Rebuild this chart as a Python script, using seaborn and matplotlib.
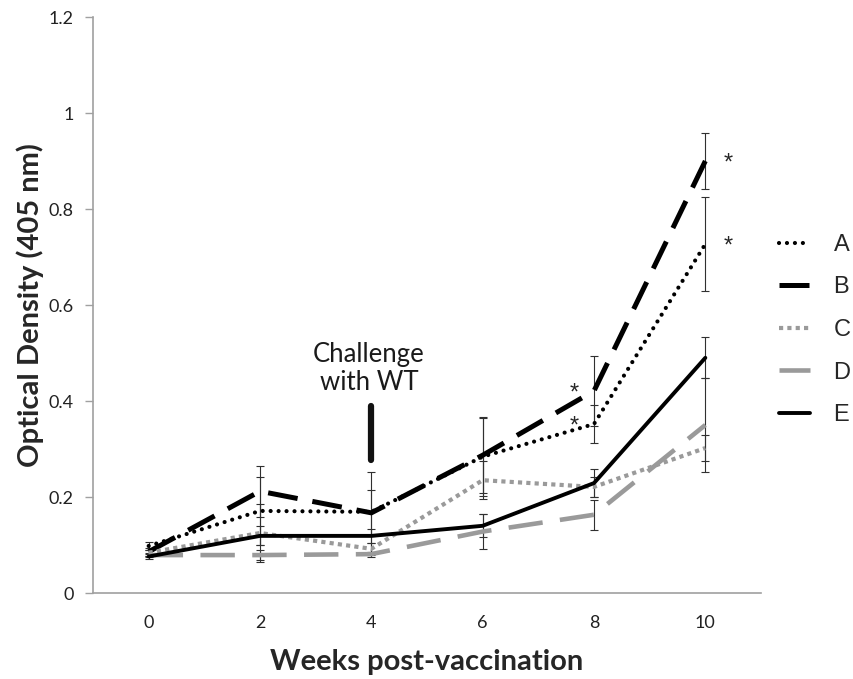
import numpy as np
import pandas as pd
import matplotlib
matplotlib.use("Agg")
import matplotlib.pyplot as plt
import seaborn as sns

# Weeks after vaccination
weeks = [0, 2, 4, 6, 8, 10]

# Mean optical density (405 nm) per group
od_a = [0.098, 0.171, 0.169, 0.284, 0.352, 0.727]
od_b = [0.086, 0.212, 0.167, 0.287, 0.421, 0.900]
od_c = [0.084, 0.125, 0.092, 0.235, 0.221, 0.302]
od_d = [0.079, 0.079, 0.081, 0.128, 0.163, 0.350]
od_e = [0.076, 0.119, 0.119, 0.140, 0.229, 0.490]

# Standard error per group
err_a = [0.008, 0.070, 0.084, 0.082, 0.040, 0.098]
err_b = [0.008, 0.053, 0.048, 0.078, 0.073, 0.058]
err_c = [0.006, 0.060, 0.012, 0.040, 0.020, 0.028]
err_d = [0.004, 0.010, 0.005, 0.036, 0.031, 0.097]
err_e = [0.005, 0.020, 0.015, 0.024, 0.030, 0.043]

groups = ["A", "B", "C", "D", "E"]
means = [od_a, od_b, od_c, od_d, od_e]
errs = [err_a, err_b, err_c, err_d, err_e]

# Significance markers (week, value of the marked mean)
star_points = [(8, od_b[4]), (8, od_a[4]), (10, od_b[5]), (10, od_a[5])]

# Challenge marker
challenge_week = 4
challenge_span = (0.277, 0.389)

gray = "#9a9a9a"
styles = {
    "A": dict(color="black", lw=3.0, ls=(0, (0.01, 1.9)), cap="round"),
    "B": dict(color="black", lw=3.6, ls=(0, (6.0, 3.0)), cap="butt"),
    "C": dict(color=gray, lw=3.0, ls=(0, (1.0, 1.0)), cap="butt"),
    "D": dict(color=gray, lw=3.3, ls=(0, (7.5, 3.8)), cap="butt"),
    "E": dict(color="black", lw=2.8, ls="-", cap="butt"),
}

sns.set_theme(style="white")
plt.rcParams["font.family"] = ["Lato", "DejaVu Sans"]

fig = plt.figure(figsize=(8.54, 6.79), dpi=100)
ax = fig.add_axes([93 / 854, 86 / 679, 668 / 854, 576 / 679])

handles = []
for g, m, e in zip(groups, means, errs):
    st = styles[g]
    df = pd.DataFrame({"week": weeks, "od": m})
    ax.errorbar(weeks, m, yerr=e, fmt="none", ecolor="#303030",
                elinewidth=0.8, capsize=3, capthick=0.8, zorder=2)
    sns.lineplot(data=df, x="week", y="od", ax=ax, color=st["color"],
                 linewidth=st["lw"], linestyle=st["ls"],
                 dash_capstyle=st["cap"], errorbar=None, zorder=3)
    handles.append(ax.lines[-1])

for w, v in star_points:
    ax.text(w + 0.42 if w == 10 else w - 0.36, v - 0.005, "*",
            ha="center", va="center", fontsize=17, family="Liberation Sans")

ax.plot([challenge_week, challenge_week], challenge_span, color="#111111",
        lw=4.5, solid_capstyle="round", zorder=4)
ax.text(challenge_week - 0.04, 0.468, "Challenge\nwith WT", ha="center",
        va="center", fontsize=18.5, linespacing=1.15, color="#1a1a1a")

ax.set_xlim(-1, 11)
ax.set_ylim(0, 1.2)
ax.set_xticks(weeks)
ax.set_xticklabels([str(w) for w in weeks])
ax.set_yticks([0, 0.2, 0.4, 0.6, 0.8, 1.0, 1.2])
ax.set_yticklabels(["0", "0.2", "0.4", "0.6", "0.8", "1", "1.2"])
ax.tick_params(axis="y", length=6, width=1, color="#a0a0a0",
               direction="out", left=True, pad=8, labelsize=13,
               labelcolor="#222222")
ax.tick_params(axis="x", length=0, pad=16, labelsize=13,
               labelcolor="#222222")

for side in ["top", "right"]:
    ax.spines[side].set_visible(False)
for side in ["left", "bottom"]:
    ax.spines[side].set_color("#a0a0a0")
    ax.spines[side].set_linewidth(1.2)

ax.set_xlabel("Weeks post-vaccination", fontsize=21, fontweight="bold",
              labelpad=13)
ax.set_ylabel("Optical Density (405 nm)", fontsize=21, fontweight="bold",
              labelpad=3)

fig.legend(handles, groups, loc="center left",
           bbox_to_anchor=(758 / 854, 1 - 330 / 679), frameon=False,
           handlelength=1.3, handletextpad=1.0, labelspacing=0.87,
           prop={"family": "Liberation Sans", "size": 17})

fig.savefig("out.png", dpi=100)
